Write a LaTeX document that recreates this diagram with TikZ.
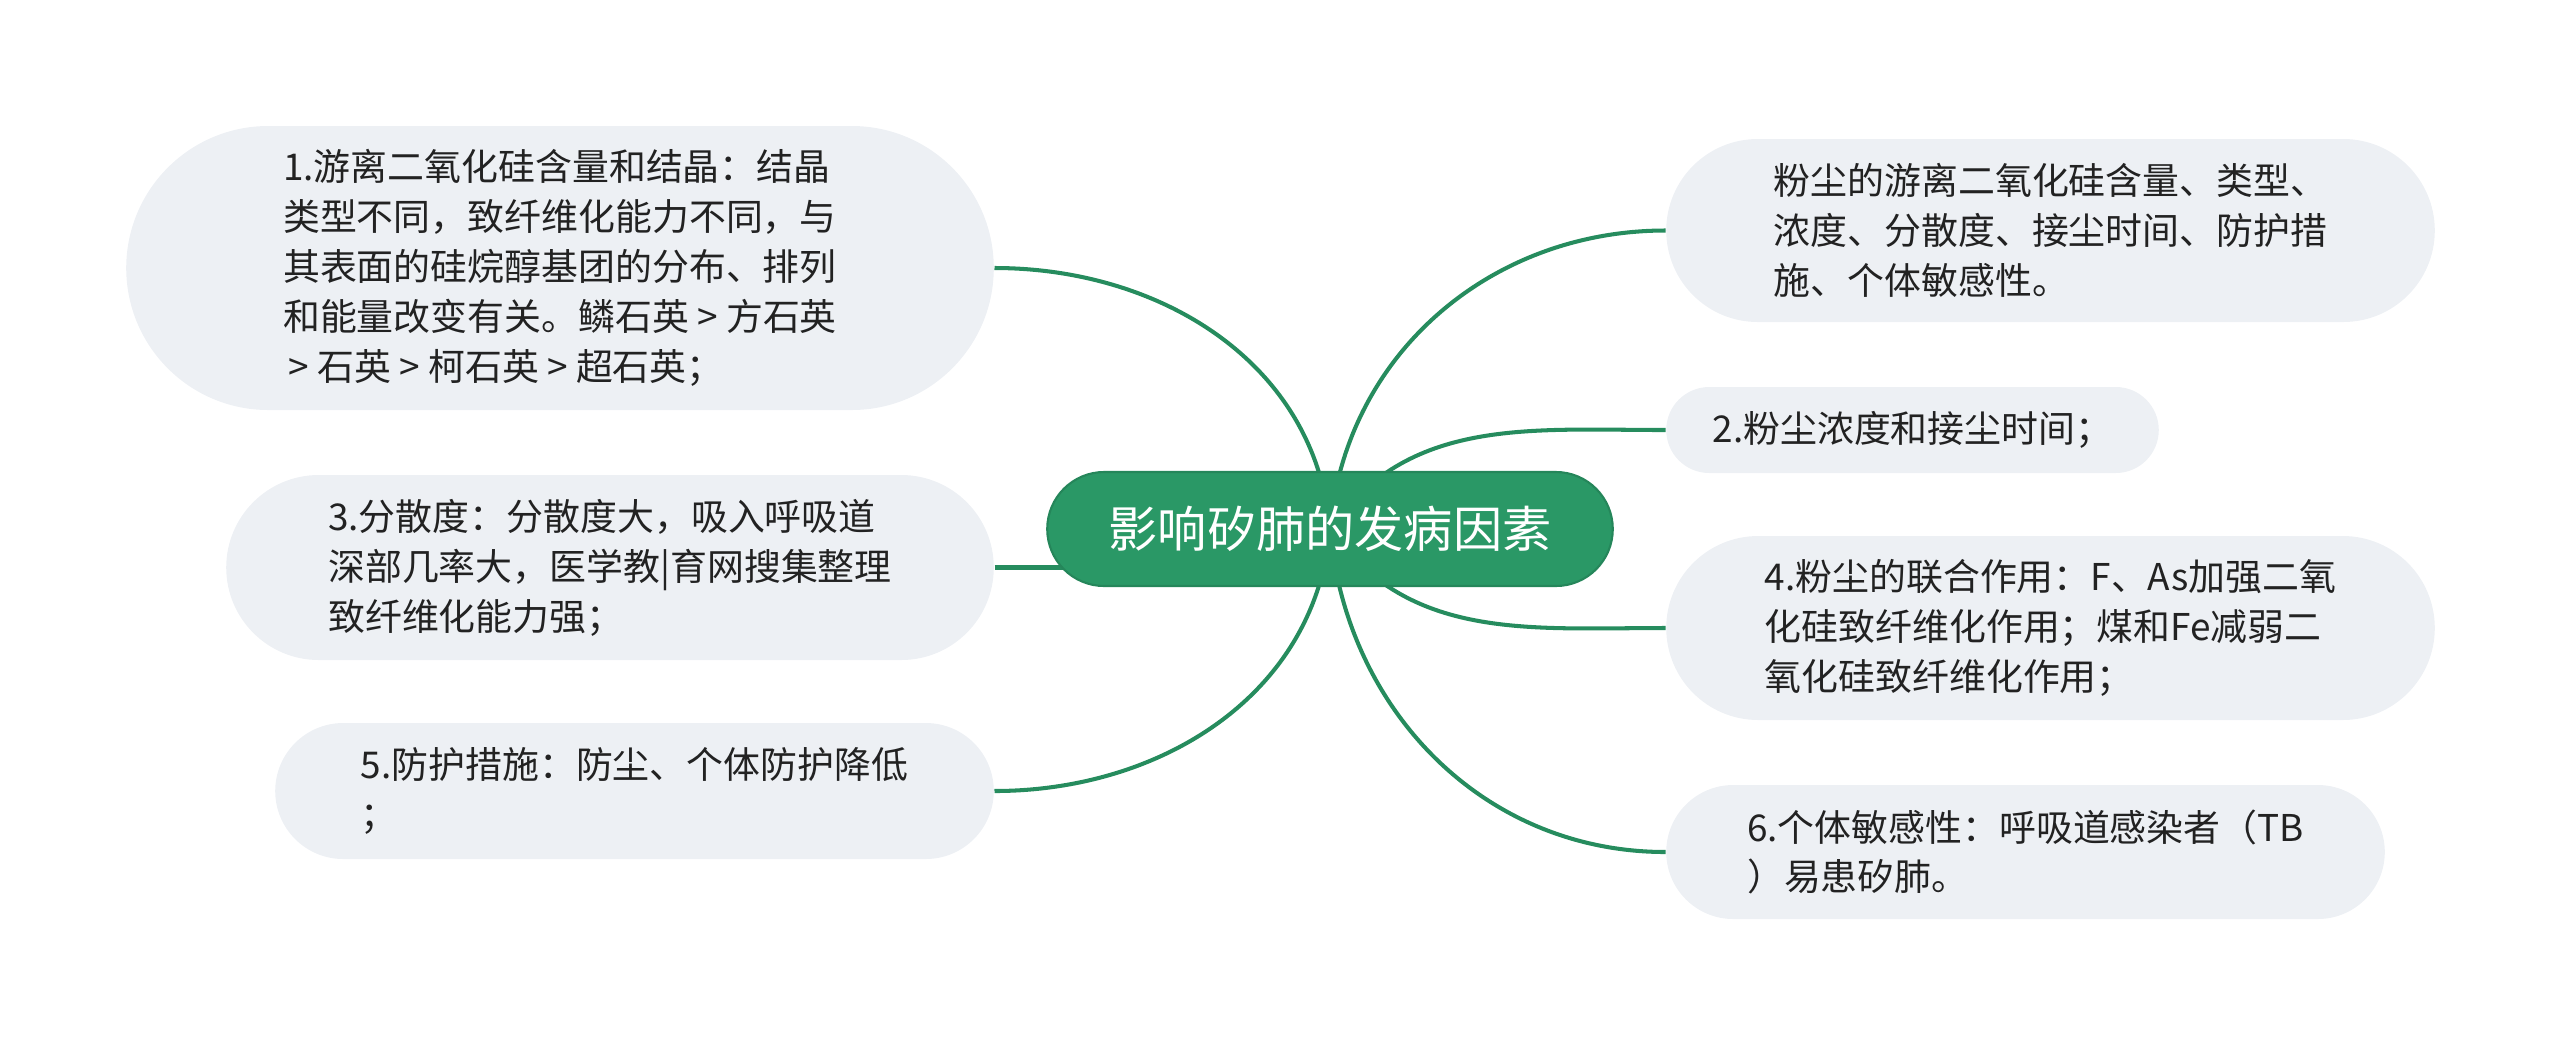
\documentclass[tikz,border=0pt]{standalone}
\usepackage{fontspec}
\usepackage{xcolor}
\usepackage{tikz}
\usetikzlibrary{shapes.misc,backgrounds}
\newfontfamily\cjkfont{Noto Sans CJK SC}
\definecolor{rootgreen}{RGB}{42,152,102}
\definecolor{linkgreen}{RGB}{38,140,94}
\definecolor{leafgray}{RGB}{237,240,244}
\definecolor{leaftext}{RGB}{34,34,34}

\begin{document}
\begin{tikzpicture}[
        root/.style={rounded rectangle, fill=rootgreen, draw=rootgreen!88!black, line width=0.6pt, minimum width=5.89cm, minimum height=1.14cm, text=white, font=\cjkfont\fontsize{14pt}{17pt}\selectfont},
        leaf/.style={rounded rectangle, fill=leafgray, align=left, text=leaftext, font=\cjkfont\fontsize{10.5pt}{14.2pt}\selectfont},
        flow/.style={line width=1.15pt, linkgreen}
    ]
        \useasboundingbox (0,0) rectangle (25.6,-10.47);
        \node[root] (root) at (13.30,-5.29) {影响矽肺的发病因素};

        \node[leaf, minimum width=8.91cm, minimum height=2.84cm] (crystal) at (5.60,-2.68) {1.游离二氧化硅含量和结晶：结晶\\类型不同，致纤维化能力不同，与\\其表面的硅烷醇基团的分布、排列\\和能量改变有关。鳞石英 > 方石英\\\hspace*{0.15em}> 石英 > 柯石英 > 超石英；};
        \node[leaf, minimum width=7.91cm, minimum height=1.85cm] (disperse) at (6.10,-5.675) {3.分散度：分散度大，吸入呼吸道\\深部几率大，医学教|育网搜集整理\\致纤维化能力强；};
        \node[leaf, minimum width=7.42cm, minimum height=1.36cm] (protect) at (6.345,-7.91) {5.防护措施：防尘、个体防护降低\\；};

        \node[leaf, minimum width=7.92cm, minimum height=1.83cm] (summary) at (20.505,-2.305) {粉尘的游离二氧化硅含量、类型、\\浓度、分散度、接尘时间、防护措\\施、个体敏感性。};
        \node[leaf, minimum width=5.16cm, minimum height=0.86cm] (density) at (19.125,-4.30) {2.粉尘浓度和接尘时间；};
        \node[leaf, minimum width=7.92cm, minimum height=1.84cm] (combine) at (20.505,-6.28) {4.粉尘的联合作用：F、As加强二氧\\化硅致纤维化作用；煤和Fe减弱二\\氧化硅致纤维化作用；};
        \node[leaf, minimum width=7.42cm, minimum height=1.34cm] (sensitive) at (20.255,-8.52) {6.个体敏感性：呼吸道感染者（TB\\）易患矽肺。};

        \begin{scope}[on background layer]
        \draw[flow] (root.center) to[out=95, in=0] (crystal.east);
        \draw[flow] (disperse.east) -- (disperse.east -| root.center);
        \draw[flow] (root.center) to[out=-95, in=0] (protect.east);
        \draw[flow] (root.center) to[out=85, in=180] (summary.west);
        \draw[flow] (root.center) to[out=55, in=180] (density.west);
        \draw[flow] (root.center) to[out=-55, in=180] (combine.west);
        \draw[flow] (root.center) to[out=-85, in=180] (sensitive.west);
        \end{scope}
    \end{tikzpicture}
\end{document}
